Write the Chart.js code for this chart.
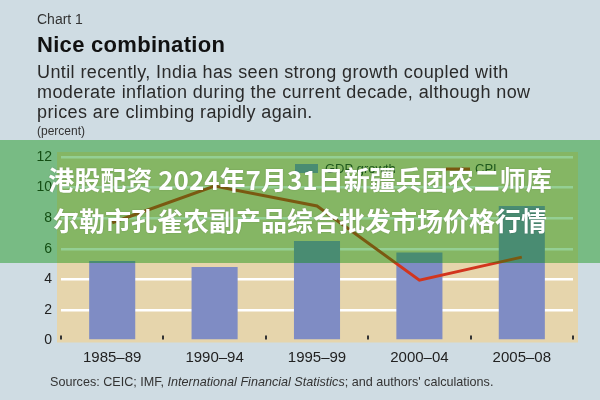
<!DOCTYPE html>
<html>
<head>
<meta charset="utf-8">
<script src="https://cdn.jsdelivr.net/npm/chart.js@4.4.1/dist/chart.umd.min.js"></script>
<style>
  html,body{margin:0;padding:0;}
  body{width:600px;height:400px;background:#cfdce3;position:relative;overflow:hidden;font-family:"Liberation Sans",Arial,sans-serif;color:#222;}
  #wrap{position:absolute;left:0;top:0;width:600px;height:400px;}
  .t{position:absolute;left:37px;white-space:nowrap;}
  #kicker{top:11px;font-size:14px;color:#333;}
  #title{top:32px;font-size:22px;font-weight:bold;color:#111;letter-spacing:0.3px;}
  #sub{top:62px;font-size:18px;line-height:20px;color:#2a2a2a;letter-spacing:0.4px;}
  #unit{top:124px;font-size:12px;color:#333;}
  #src{left:50px;top:375px;font-size:12.6px;color:#333;}
  #banner{position:absolute;left:0;top:140px;width:600px;height:123px;background:rgba(0,140,0,0.42);
    color:#fff;font-family:"Noto Sans CJK SC",sans-serif;font-weight:bold;font-size:26px;text-align:center;line-height:41px;
    padding-top:18px;box-sizing:border-box;text-shadow:0 0 2px rgba(0,0,0,.2);}
</style>
</head>
<body>
<div id="wrap"><canvas id="c"></canvas></div>
<div class="t" id="kicker">Chart 1</div>
<div class="t" id="title">Nice combination</div>
<div class="t" id="sub">Until recently, India has seen strong growth coupled with<br>moderate inflation during the current decade, although now<br>prices are climbing rapidly again.</div>
<div class="t" id="unit">(percent)</div>
<div class="t" id="src">Sources: CEIC; IMF, <i>International Financial Statistics</i>; and authors' calculations.</div>
<div id="banner">港股配资 2024年7月31日新疆兵团农二师库<br>尔勒市孔雀农副产品综合批发市场价格行情</div>
<script>
// data
const periods=["1985–89","1990–94","1995–99","2000–04","2005–08"];
const gdpGrowth=[5.2,4.8,6.5,5.75,8.8];
const cpi=[7.7,10.1,8.8,3.95,5.45];
const yTicks=[0,2,4,6,8,10,12];

const BAR="#7f8cc4", LINE="#d2351e", TAN="#e6d5ac";

// tan panel, tick marks and legend
const decor={
  id:"decor",
  beforeDraw(ch){
    const a=ch.chartArea, c=ch.ctx;
    c.save();
    c.fillStyle=TAN;
    c.fillRect(a.left-4,a.top-5,a.right-a.left+9,a.bottom-a.top+7);
    c.restore();
  },
  afterDraw(ch){
    const c=ch.ctx, x=ch.scales.x, a=ch.chartArea;
    const w=x.getPixelForValue(1)-x.getPixelForValue(0);
    c.save();
    c.fillStyle="#333";
    for(let i=0;i<=periods.length;i++){
      const px=x.getPixelForValue(0)-w/2+i*w;
      c.fillRect(Math.round(px)-1,a.bottom-5,2,4);
    }
    // legend
    c.fillStyle=BAR;
    c.fillRect(295,164,23,9);
    c.fillStyle="#333";
    c.font="13px 'Liberation Sans', Arial";
    c.textBaseline="middle";
    c.fillText("GDP growth",325,169);
    c.strokeStyle=LINE;c.lineWidth=3;
    c.beginPath();c.moveTo(446,169);c.lineTo(470,169);c.stroke();
    c.fillText("CPI",475,169);
    c.restore();
  }
};

new Chart(document.getElementById("c"),{
  data:{
    labels:periods,
    datasets:[
      {type:"line",label:"CPI",data:cpi,borderColor:LINE,borderWidth:3,pointRadius:0,tension:0,order:0},
      {type:"bar",label:"GDP growth",data:gdpGrowth,backgroundColor:BAR,barPercentage:0.9,categoryPercentage:0.5,order:1}
    ]
  },
  options:{
    responsive:true,maintainAspectRatio:false,animation:false,
    layout:{padding:{top:157,right:27,bottom:0,left:0}},
    plugins:{legend:{display:false},tooltip:{enabled:false}},
    scales:{
      x:{
        grid:{display:false,drawTicks:false},
        border:{display:false},
        ticks:{padding:8,color:"#222",font:{size:15,family:"'Liberation Sans', Arial"}},
        afterFit:s=>{s.height=59.5;}
      },
      y:{
        min:0,max:12,
        afterBuildTicks:s=>{s.ticks=yTicks.map(v=>({value:v}));},
        grid:{color:c=>c.tick.value===0?"rgba(0,0,0,0)":"#ffffff",lineWidth:2.5,drawTicks:false},
        border:{display:false},
        ticks:{padding:9,color:"#222",font:{size:14,family:"'Liberation Sans', Arial"}},
        afterFit:s=>{s.width=61;}
      }
    }
  },
  plugins:[decor]
});
</script>
</body>
</html>
